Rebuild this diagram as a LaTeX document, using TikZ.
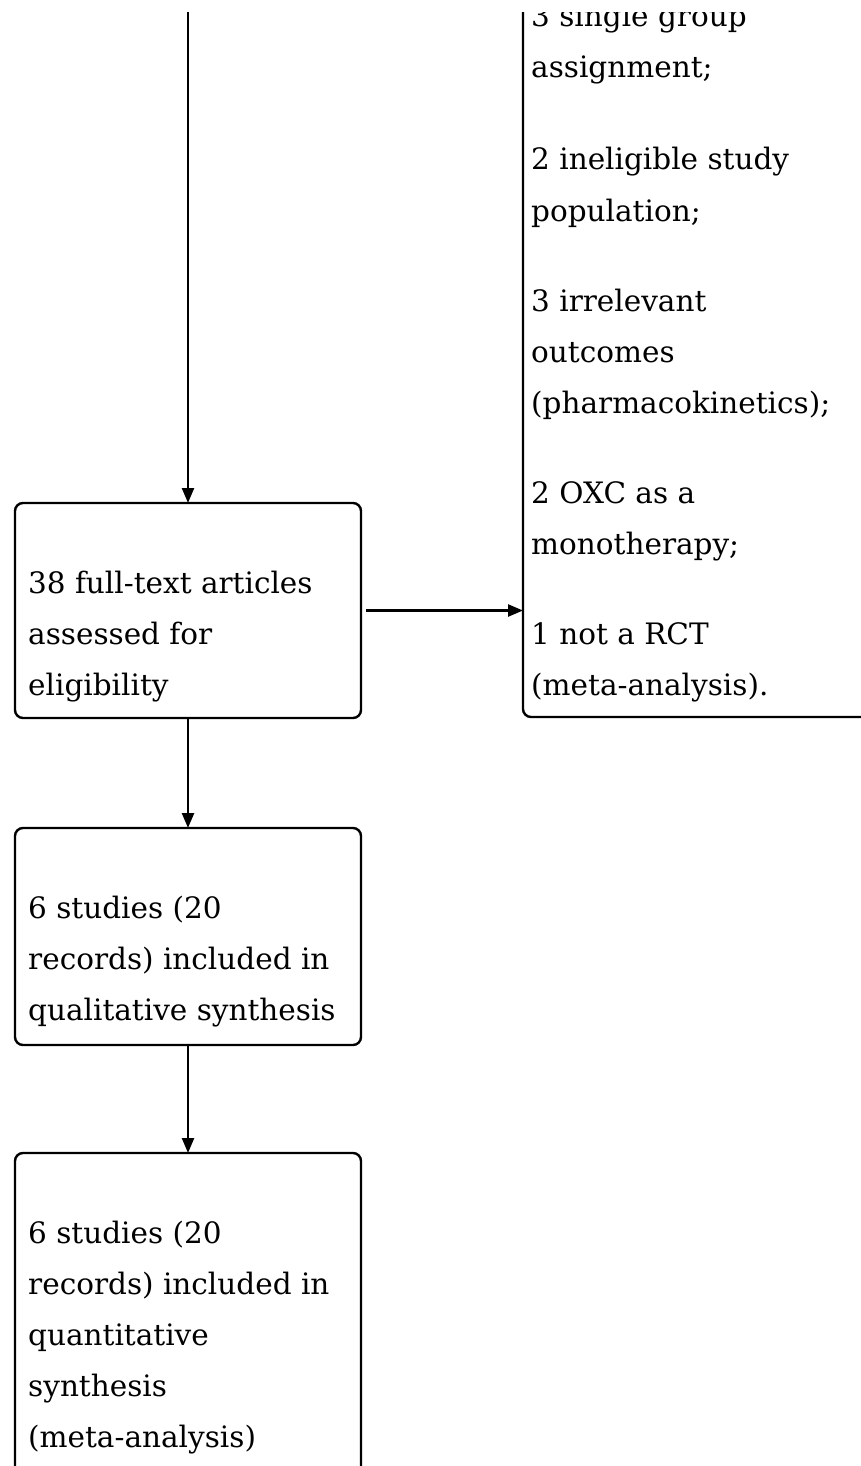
\documentclass[tikz,border=0pt]{standalone}
\usepackage{fontspec}
\setmainfont{DejaVu Serif}
\usetikzlibrary{arrows.meta}

\tikzset{
  box/.style={draw, line width=2.4pt, rounded corners=8pt, inner sep=0pt, outer sep=0pt},
  label/.style={anchor=base west, inner sep=0pt,
    font=\fontsize{29.5}{51}\selectfont},
  flow/.style={line width=2.4pt, -{Triangle[length=15pt,width=12pt]}},
}

% one text line per node, stacked at a fixed line pitch
\newcommand{\textlines}[4]{%
  \foreach \ln [count=\k] in {#4}
    \node[label] (#1-\k) at (#2, {#3+(\k-1)*51}) {\ln};%
}

\begin{document}
\begin{tikzpicture}[x=1pt, y=-1pt]
\useasboundingbox (0,0) rectangle (861,1466);
\clip (0,13) rectangle (861,1466);

% left column of boxes
\node[box, anchor=north west, minimum width=346pt, minimum height=215pt] (full) at (15,503) {};
\node[box, anchor=north west, minimum width=346pt, minimum height=217pt] (qual) at (15,828) {};
\node[box, anchor=north west, minimum width=346pt, minimum height=447pt] (quant) at (15,1153) {};

% exclusion box on the right
\node[box, anchor=south west, minimum width=500pt, minimum height=950pt] (excl) at (523,717) {};

% box texts
\textlines{tfull}{28}{593}{38 full-text articles, assessed for, eligibility}
\textlines{tqual}{28}{918}{6 studies (20, records) included in, qualitative synthesis}
\textlines{tquant}{28}{1243}{6 studies (20, records) included in, quantitative, synthesis, (meta-analysis)}

\textlines{ea}{531}{27}{3 single group, assignment;}
\textlines{eb}{531}{170}{2 ineligible study, population;}
\textlines{ec}{531}{311}{3 irrelevant, outcomes, (pharmacokinetics);}
\textlines{ed}{531}{503}{2 OXC as a, monotherapy;}
\textlines{ee}{531}{644}{1 not a RCT, (meta-analysis).}

% connectors
\coordinate (above) at (188,-60);
\draw[flow] (above) -- (full.north);
\draw[flow] (full.south) -- (qual.north);
\draw[flow] (qual.south) -- (quant.north);
\draw[flow, shorten <=5pt] (full.east) -- (full.east -| excl.west);
\end{tikzpicture}
\end{document}
